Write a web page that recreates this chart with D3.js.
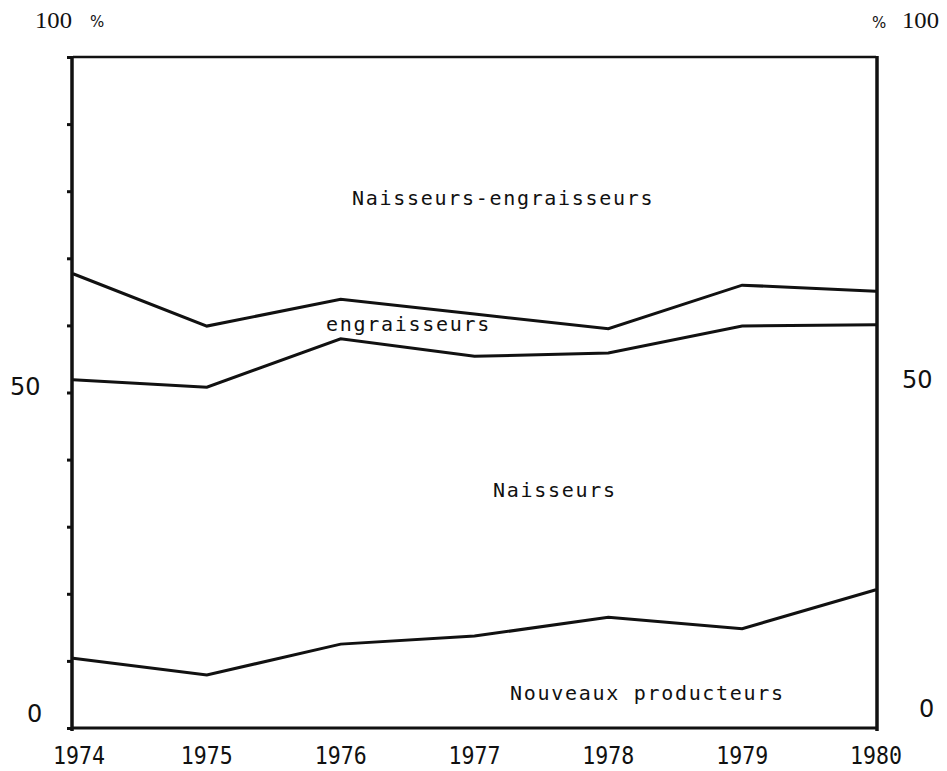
<!DOCTYPE html>
<html>
<head>
<meta charset="utf-8">
<script src="https://cdn.jsdelivr.net/npm/d3@7.9.0/dist/d3.min.js"></script>
<style>
  html, body { margin: 0; padding: 0; background: #fff; }
  svg { display: block; }
  .mono { font-family: "DejaVu Sans Mono", "Liberation Mono", monospace; fill: #111; }
  .serif { font-family: "Liberation Serif", "DejaVu Serif", serif; fill: #111; }
  .sans { font-family: "DejaVu Sans", "Liberation Sans", sans-serif; fill: #111; }
</style>
</head>
<body>
<svg id="chart" width="947" height="771"></svg>
<script>
// years on the x axis
const years = [1974, 1975, 1976, 1977, 1978, 1979, 1980];

// cumulative shares (%) — upper edge of each band
const nouveauxTop = [10.4, 7.9, 12.5, 13.7, 16.5, 14.8, 20.6];      // Nouveaux producteurs
const naisseursTop = [51.9, 50.8, 58.0, 55.4, 55.9, 59.9, 60.1];    // Naisseurs
const engraisseursTop = [67.7, 59.9, 63.9, 61.7, 59.5, 66.0, 65.1]; // engraisseurs

const bandLabels = ["Naisseurs-engraisseurs", "engraisseurs", "Naisseurs", "Nouveaux producteurs"];
const yTicks = d3.range(0, 101, 10);

const svg = d3.select('#chart');

const x = d3.scaleLinear().domain([1974, 1980]).range([73, 876]);
const y = d3.scaleLinear().domain([0, 100]).range([728, 57]);

// frame
svg.append('line').attr('x1', x(1974)).attr('x2', x(1980)).attr('y1', y(100)).attr('y2', y(100))
  .attr('stroke', '#111').attr('stroke-width', 2.5);
svg.append('line').attr('x1', x(1974)).attr('x2', x(1980)).attr('y1', y(0)).attr('y2', y(0))
  .attr('stroke', '#111').attr('stroke-width', 3);
svg.append('line').attr('x1', x(1974) - 1).attr('x2', x(1974) - 1).attr('y1', y(100) - 1).attr('y2', y(0) + 3)
  .attr('stroke', '#111').attr('stroke-width', 3.5);
svg.append('line').attr('x1', x(1980) + 1).attr('x2', x(1980) + 1).attr('y1', y(100) - 1).attr('y2', y(0) + 3)
  .attr('stroke', '#111').attr('stroke-width', 3.5);

// little tick marks on the left edge (every 10 %)
const leftAxis = d3.axisLeft(y).tickValues(yTicks).tickSize(4).tickFormat('');
const gl = svg.append('g').attr('transform', `translate(${x(1974) - 2},0)`).call(leftAxis);
gl.select('.domain').remove();
gl.selectAll('.tick line').attr('stroke', '#111').attr('stroke-width', 3);

// the band boundaries
const line = d3.line().x((d, i) => x(years[i])).y(d => y(d));
[nouveauxTop, naisseursTop, engraisseursTop].forEach(series => {
  svg.append('path')
    .attr('d', line(series))
    .attr('fill', 'none')
    .attr('stroke', '#111')
    .attr('stroke-width', 3)
    .attr('stroke-linejoin', 'miter');
});

// year labels
svg.selectAll('.year').data(years).enter().append('text')
  .attr('class', 'mono')
  .attr('x', d => x(d) + (d === 1974 ? 6 : 0) - 26)
  .attr('y', 764)
  .attr('font-size', 25)
  .attr('textLength', 52)
  .attr('lengthAdjust', 'spacingAndGlyphs')
  .text(d => d);

// left axis labels
svg.append('text').attr('class', 'serif').attr('x', 35).attr('y', 28).attr('font-size', 23)
  .attr('textLength', 37).attr('lengthAdjust', 'spacingAndGlyphs').text('100');
svg.append('text').attr('class', 'sans').attr('x', 90).attr('y', 27).attr('font-size', 15).text('%');
svg.append('text').attr('class', 'sans').attr('x', 10).attr('y', 395).attr('font-size', 24).text('50');
svg.append('text').attr('class', 'sans').attr('x', 27).attr('y', 722).attr('font-size', 24).text('0');

// right axis labels
svg.append('text').attr('class', 'sans').attr('x', 872).attr('y', 28).attr('font-size', 15).text('%');
svg.append('text').attr('class', 'serif').attr('x', 902).attr('y', 28).attr('font-size', 23)
  .attr('textLength', 37).attr('lengthAdjust', 'spacingAndGlyphs').text('100');
svg.append('text').attr('class', 'sans').attr('x', 902).attr('y', 388).attr('font-size', 24).text('50');
svg.append('text').attr('class', 'sans').attr('x', 919).attr('y', 717).attr('font-size', 24).text('0');

// band labels
const labelPos = [
  { x: 352, y: 205 },
  { x: 326, y: 331 },
  { x: 493, y: 497 },
  { x: 510, y: 700 }
];
svg.selectAll('.band').data(bandLabels).enter().append('text')
  .attr('class', 'mono')
  .attr('x', (d, i) => labelPos[i].x)
  .attr('y', (d, i) => labelPos[i].y)
  .attr('font-size', 20)
  .attr('letter-spacing', 1.7)
  .text(d => d);
</script>
</body>
</html>
